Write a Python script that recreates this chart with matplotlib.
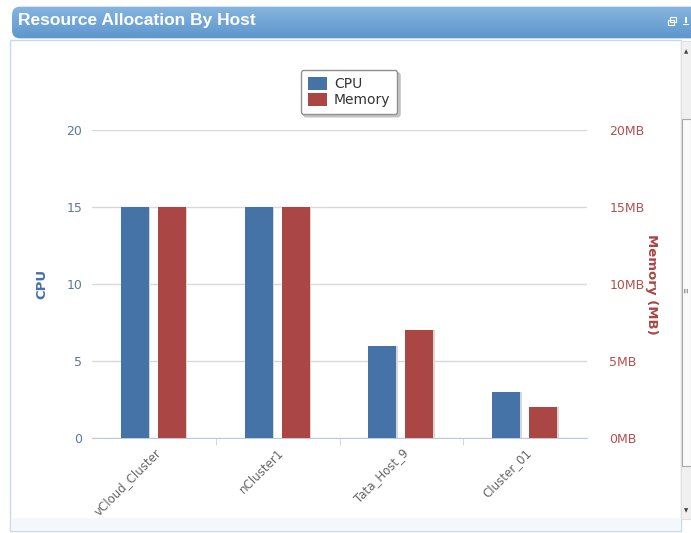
import numpy as np
import matplotlib
matplotlib.use("Agg")
import matplotlib.pyplot as plt
from matplotlib.patches import FancyBboxPatch, Rectangle

# ─────────────────────────────────────────────
#  Data
# ─────────────────────────────────────────────
hosts = ["vCloud_Cluster", "nCluster1", "Tata_Host_9", "Cluster_01"]
cpu = [15, 15, 6, 3]
memory_mb = [15, 15, 7, 2]
y_ticks = [0, 5, 10, 15, 20]

BLUE = "#4572A7"
RED = "#AA4643"

W, H = 691, 533
fig = plt.figure(figsize=(W / 100, H / 100), dpi=100)
fig.patch.set_facecolor("white")


def fx(px):
    return px / W


def fy(py):
    return 1 - py / H


def box(x0, y0, x1, y1, **kw):
    # rectangle given in pixel coords (top-left origin), drawn behind the charts
    kw.setdefault("zorder", -5)
    r = Rectangle((fx(x0), fy(y1)), fx(x1) - fx(x0), fy(y0) - fy(y1),
                  transform=fig.transFigure, **kw)
    fig.patches.append(r)
    return r


# panel frame + bottom strip
box(10, 40, 681, 531, facecolor="white", edgecolor="#c9d9ea", lw=1, zorder=-10)
box(11, 518, 680, 530, facecolor="#f4f7fb", edgecolor="none", zorder=-9)

# header bar with gradient
hax = fig.add_axes([fx(10), fy(39), fx(691) - fx(10), fy(6) - fy(39)])
grad = np.linspace(0, 1, 64).reshape(-1, 1)
cmap = matplotlib.colors.LinearSegmentedColormap.from_list("hdr", ["#86b5e0", "#5d96cc"])
img = hax.imshow(grad, aspect="auto", cmap=cmap, extent=[0, 1, 0, 1], origin="upper")
clip = FancyBboxPatch((0.003, 0.02), 1.05, 0.96, boxstyle="round,pad=0,rounding_size=0.012",
                      transform=hax.transAxes, facecolor="none", edgecolor="none",
                      mutation_aspect=20)
hax.add_patch(clip)
img.set_clip_path(clip)
hax.set_xlim(0, 1)
hax.set_ylim(0, 1)
hax.axis("off")
fig.text(fx(18), fy(21), "Resource Allocation By Host", color="white", fontsize=12.5,
         fontweight="bold", family="Liberation Sans", va="center", ha="left")
# small header icons
box(668, 20, 674, 25, facecolor="none", edgecolor="white", lw=0.8, zorder=5)
box(670, 17, 676, 22, facecolor="none", edgecolor="white", lw=0.8, zorder=5)
box(685, 17, 687, 23, facecolor="white", edgecolor="none", zorder=5)
box(683, 24, 689, 25, facecolor="white", edgecolor="none", zorder=5)

# scrollbar
box(681, 41, 691, 519, facecolor="#f0f0f0", edgecolor="#e0e0e0", lw=0.8, zorder=1)
box(682, 119, 691, 466, facecolor="#fafafa", edgecolor="#a8a8a8", lw=0.8, zorder=2)
fig.text(fx(686), fy(52), "▲", fontsize=4, color="#444444", ha="center", va="center")
fig.text(fx(686), fy(511), "▼", fontsize=4, color="#444444", ha="center", va="center")
fig.text(fx(687), fy(290), "≡", fontsize=5, color="#777777", ha="center", va="center",
         rotation=90)

# ─────────────────────────────────────────────
#  Chart
# ─────────────────────────────────────────────
ax = fig.add_axes([fx(92), fy(438), fx(587) - fx(92), fy(130) - fy(438)])
ax.patch.set_alpha(0)
x = np.arange(len(hosts))
bw = 0.226
off_b, off_r = -0.153, 0.145

# soft shadows
for xs, vals in ((x + off_b, cpu), (x + off_r, memory_mb)):
    ax.bar(xs + 0.012, vals, bw, color="#d7d7d7", zorder=2, linewidth=0)
ax.bar(x + off_b, cpu, bw, color=BLUE, zorder=3, linewidth=0, label="CPU")
ax.bar(x + off_r, memory_mb, bw, color=RED, zorder=3, linewidth=0, label="Memory")

ax.set_xlim(-0.5, len(hosts) - 0.5)
ax.set_ylim(0, 20)
ax.set_yticks(y_ticks)
ax.yaxis.grid(True, color="#d9d9d9", lw=1)
ax.set_axisbelow(True)
for s in ("top", "right", "left"):
    ax.spines[s].set_visible(False)
ax.spines["bottom"].set_color("#c0cad6")
ax.tick_params(axis="y", length=0, pad=7, labelsize=9, labelcolor="#5b77a6")
ax.set_xticks(x)
ax.set_xticklabels(hosts, rotation=45, ha="right", rotation_mode="anchor",
                   fontsize=8.5, color="#666666")
ax.set_xticks(np.arange(0.5, len(hosts) - 1), minor=True)
ax.tick_params(axis="x", which="major", length=0, pad=6)
ax.tick_params(axis="x", which="minor", length=5, color="#d0d0d0")
ax.set_ylabel("CPU", color=BLUE, fontweight="bold", fontsize=9.5, labelpad=13)

ax2 = ax.twinx()
ax2.patch.set_alpha(0)
ax2.set_ylim(0, 20)
ax2.set_yticks(y_ticks)
ax2.set_yticklabels([f"{v}MB" for v in y_ticks])
for s in ax2.spines.values():
    s.set_visible(False)
ax2.tick_params(axis="y", length=0, pad=16, labelsize=9, labelcolor="#b5504d")
ax2.set_ylabel("Memory (MB)", color=RED, fontweight="bold", fontsize=9.5,
               rotation=-90, labelpad=10)

leg = ax2.legend(*ax.get_legend_handles_labels(), loc="center",
                 bbox_to_anchor=(fx(349), fy(92)),
                 bbox_transform=fig.transFigure, fontsize=10, frameon=True,
                 fancybox=True, shadow={"color": "#bbbbbb", "alpha": 0.8},
                 handlelength=1.4, handleheight=1.1,
                 handletextpad=0.5, borderpad=0.5, labelspacing=0.1,
                 borderaxespad=0)
leg.get_frame().set_edgecolor("#909090")
for t in leg.get_texts():
    t.set_color("#333333")

fig.savefig("out.png", dpi=100)
